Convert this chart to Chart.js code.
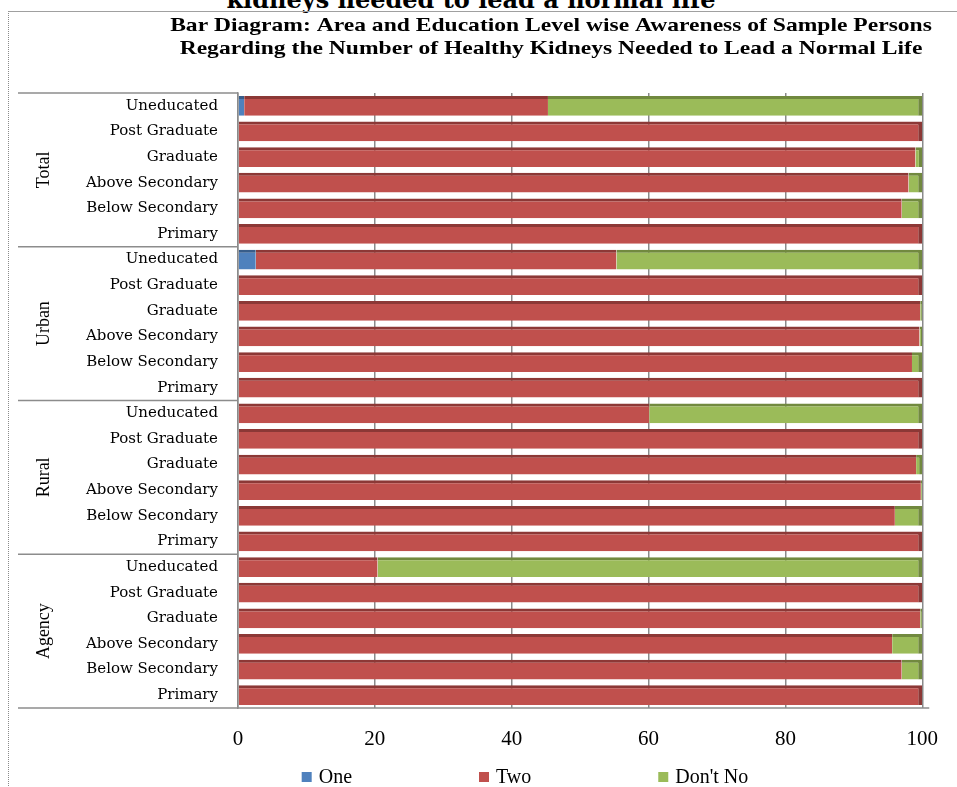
<!DOCTYPE html>
<html>
<head>
<meta charset="utf-8">
<script src="https://cdn.jsdelivr.net/npm/chart.js@4.4.0/dist/chart.umd.min.js"></script>
<style>
html, body { margin: 0; padding: 0; background: #fff; width: 957px; height: 787px; overflow: hidden; }
#top { position: absolute; left: 0; top: -12px; width: 942px; text-align: center;
       font: bold 24px 'DejaVu Serif'; line-height: 24px; color: #000; white-space: nowrap; }
#box { position: absolute; left: 8px; top: 11px; width: 980px; height: 800px;
       border-top: 1px solid #a0a0a0; border-left: 1px dotted #8a8a8a; }
#box canvas { position: absolute; left: 0; top: 0; }
</style>
</head>
<body>
<div id="top">kidneys needed to lead a normal life</div>
<div id="box"><canvas id="kidneyChart" width="948" height="775"></canvas></div>
<script>
// datos (porcentajes)
var titleLines = [
    'Bar Diagram: Area and Education Level wise Awareness of Sample Persons',
    'Regarding the Number of Healthy Kidneys Needed to Lead a Normal Life'
];
var groups = ['Total', 'Urban', 'Rural', 'Agency'];
var levels = ['Uneducated', 'Post Graduate', 'Graduate', 'Above Secondary', 'Below Secondary', 'Primary'];
var xTicks = [0, 20, 40, 60, 80, 100];

var oneValues  = [0.9, 0, 0, 0, 0, 0,   2.6, 0, 0, 0, 0, 0,   0, 0, 0, 0, 0, 0,   0, 0, 0, 0, 0, 0];
var twoValues  = [44.4, 100, 99, 98, 97, 100,   52.7, 100, 99.7, 99.6, 98.5, 100,
                  60.1, 100, 99.1, 99.8, 96, 100,   20.4, 100, 99.7, 95.6, 97, 100];
var dontValues = [54.7, 0, 1, 2, 3, 0,   44.7, 0, 0.3, 0.4, 1.5, 0,
                  39.9, 0, 0.9, 0.2, 4, 0,   79.6, 0, 0.3, 4.4, 3, 0];

var SERIF = "'Liberation Serif', 'Times New Roman', serif";

var labels = [];
groups.forEach(function() { levels.forEach(function(l) { labels.push(l); }); });

// borde superior y lateral oscuro para imitar el efecto 3D
function edgeWidth(ctx) {
    var i = ctx.dataIndex;
    var last = -1;
    ctx.chart.data.datasets.forEach(function(s, k) { if (s.data[i] > 0) last = k; });
    return { top: 3, right: ctx.datasetIndex === last ? 4 : 0, bottom: 0, left: 0 };
}

var decor = {
    id: 'decor',
    afterDraw: function(chart) {
        var ctx = chart.ctx, a = chart.chartArea, y = chart.scales.y;
        ctx.save();

        // titulo
        ctx.fillStyle = '#000';
        ctx.textAlign = 'center';
        ctx.textBaseline = 'middle';
        ctx.font = 'bold 19px ' + SERIF;
        titleLines.forEach(function(t, i) {
            ctx.save();
            ctx.translate(542, 14 + i * 23);
            ctx.scale(1.24, 1);
            ctx.fillText(t, 0, 0);
            ctx.restore();
        });

        // lineas de grupo y nombres
        ctx.strokeStyle = '#8c8c8c';
        ctx.lineWidth = 1.5;
        groups.forEach(function(g, gi) {
            var first = gi * levels.length, lastIdx = first + levels.length - 1;
            var yTop = gi === 0 ? a.top :
                (y.getPixelForValue(first - 1) + y.getPixelForValue(first)) / 2;
            ctx.beginPath();
            ctx.moveTo(9, yTop);
            ctx.lineTo(a.left, yTop);
            ctx.stroke();

            var yMid = (y.getPixelForValue(first) + y.getPixelForValue(lastIdx)) / 2;
            ctx.save();
            ctx.translate(35, yMid);
            ctx.rotate(-Math.PI / 2);
            ctx.font = '18px ' + SERIF;
            ctx.fillText(g, 0, 0);
            ctx.restore();
        });
        ctx.beginPath();
        ctx.moveTo(9, a.bottom);
        ctx.lineTo(a.right + 7, a.bottom);
        ctx.stroke();

        // leyenda
        ctx.font = '20px ' + SERIF;
        ctx.textAlign = 'left';
        var sets = chart.data.datasets, gap = 127, box = 10, pad = 7;
        var total = 0;
        sets.forEach(function(s, k) {
            total += box + pad + ctx.measureText(s.label).width + (k < sets.length - 1 ? gap : 0);
        });
        var x = 516 - total / 2, ly = 765;
        sets.forEach(function(s) {
            ctx.fillStyle = s.backgroundColor;
            ctx.fillRect(x, ly - box / 2, box, box);
            ctx.fillStyle = '#000';
            ctx.fillText(s.label, x + box + pad, ly + 1);
            x += box + pad + ctx.measureText(s.label).width + gap;
        });
        ctx.restore();
    }
};

new Chart(document.getElementById('kidneyChart'), {
    type: 'bar',
    data: {
        labels: labels,
        datasets: [
            { label: 'One', data: oneValues, backgroundColor: '#4F81BD', borderColor: '#385D8A' },
            { label: 'Two', data: twoValues, backgroundColor: '#C0504D', borderColor: '#8C3836' },
            { label: "Don't No", data: dontValues, backgroundColor: '#9BBB59', borderColor: '#71893F' }
        ]
    },
    options: {
        indexAxis: 'y',
        responsive: false,
        animation: false,
        layout: { padding: { top: 81, right: 34, bottom: 34, left: 0 } },
        datasets: {
            bar: {
                categoryPercentage: 1,
                barPercentage: 0.77,
                borderSkipped: false,
                borderWidth: edgeWidth
            }
        },
        plugins: {
            legend: { display: false },
            title: { display: false },
            tooltip: { enabled: false }
        },
        scales: {
            x: {
                stacked: true,
                min: 0,
                max: 100,
                afterBuildTicks: function(scale) {
                    scale.ticks = xTicks.map(function(v) { return { value: v }; });
                },
                afterFit: function(scale) { scale.height = 45; },
                grid: { color: '#8a8a8a', lineWidth: 1.5, drawTicks: false },
                border: { display: false },
                ticks: {
                    padding: 19,
                    color: '#000',
                    font: { family: SERIF, size: 21 }
                }
            },
            y: {
                stacked: true,
                afterFit: function(scale) { scale.width = 229; },
                grid: { display: false, drawTicks: false },
                border: { display: true, color: '#8a8a8a', width: 1.5 },
                ticks: {
                    padding: 20,
                    autoSkip: false,
                    color: '#000',
                    font: { family: 'DejaVu Serif', size: 15 }
                }
            }
        }
    },
    plugins: [decor]
});
</script>
</body>
</html>
